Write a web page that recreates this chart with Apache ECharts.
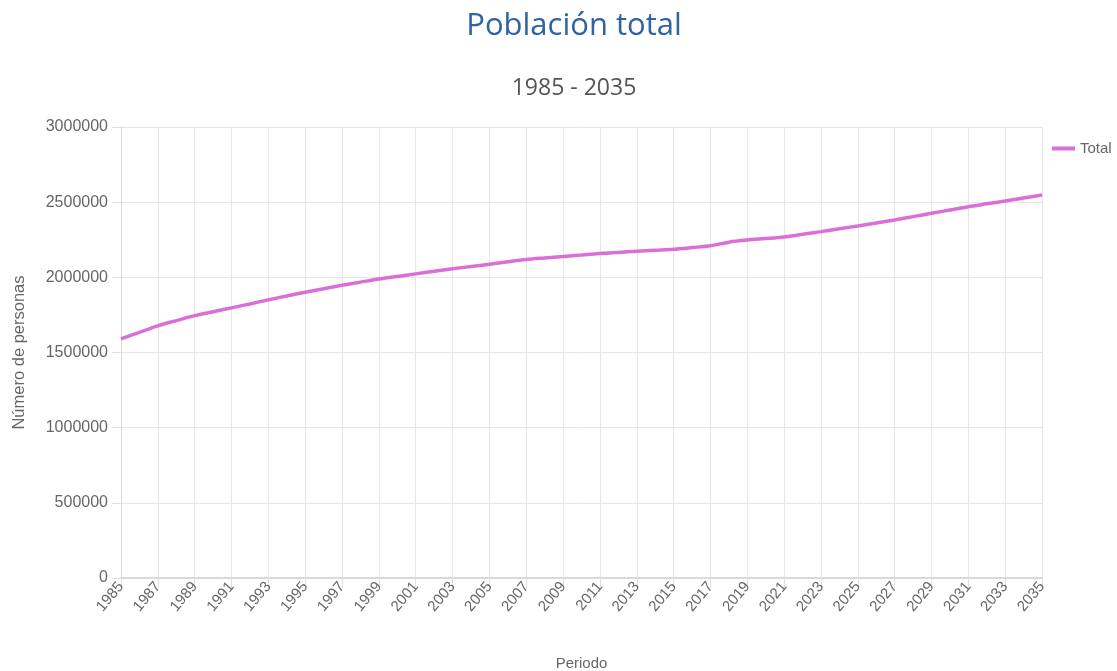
<!DOCTYPE html>
<html>
<head>
<meta charset="utf-8">
<script src="https://cdn.jsdelivr.net/npm/echarts@6/dist/echarts.min.js"></script>
<style>html,body{margin:0;padding:0;background:#fff}#c{width:1117px;height:671px}</style>
</head>
<body>
<div id="c"></div>
<script>
const categories = ['1985','1986','1987','1988','1989','1990','1991','1992','1993','1994','1995','1996','1997','1998','1999','2000','2001','2002','2003','2004','2005','2006','2007','2008','2009','2010','2011','2012','2013','2014','2015','2016','2017','2018','2019','2020','2021','2022','2023','2024','2025','2026','2027','2028','2029','2030','2031','2032','2033','2034','2035'];
const totalValues = [1590000,1634000,1677000,1712000,1745000,1771000,1797000,1823000,1850000,1876000,1901000,1924000,1947000,1968000,1989000,2006000,2023000,2040000,2057000,2072000,2087000,2103000,2119000,2129000,2138000,2148000,2158000,2166000,2173000,2180000,2187000,2198000,2210000,2234000,2248000,2258000,2269000,2286000,2304000,2323000,2342000,2362000,2382000,2404000,2426000,2448000,2470000,2489000,2508000,2528000,2548000];
const seriesName = 'Total';
const titleText = 'Población total';
const subtitleText = '1985 - 2035';

const chart = echarts.init(document.getElementById('c'), null, {renderer: 'canvas'});
chart.setOption({
  animation: false,
  title: [
    {text: titleText, left: 569, textAlign: 'center', top: 6, textStyle: {fontFamily: 'Open Sans', fontSize: 31, fontWeight: 'normal', color: '#2f63a3'}},
    {text: subtitleText, left: 569, textAlign: 'center', top: 72, textStyle: {fontFamily: 'Open Sans', fontSize: 23, fontWeight: 'normal', color: '#555'}}
  ],
  legend: {
    left: 1052, top: 141, padding: 0, icon: 'rect', itemWidth: 23, itemHeight: 4, itemGap: 5,
    textStyle: {fontFamily: 'Liberation Sans', fontSize: 15, color: '#666', padding: [0,0,0,0]},
    data: [seriesName]
  },
  grid: {left: 121, right: 75, top: 127, bottom: 93, containLabel: false, outerBoundsMode: 'none'},
  xAxis: {
    type: 'category', data: categories, boundaryGap: false,
    name: 'Periodo', nameLocation: 'middle', nameGap: 78,
    nameTextStyle: {fontFamily: 'Liberation Sans', fontSize: 15, color: '#666'},
    axisLine: {show: true, lineStyle: {color: '#d9d9d9', width: 2}},
    axisTick: {show: true, interval: 1, length: 10, lineStyle: {color: '#e0e0e0'}},
    axisLabel: {interval: 1, rotate: 50, margin: 6, fontFamily: 'Liberation Sans', fontSize: 15, color: '#666'},
    splitLine: {show: true, interval: 1, lineStyle: {color: '#e6e6e6'}}
  },
  yAxis: {
    type: 'value', min: 0, max: 3000000, interval: 500000,
    name: 'Número de personas', nameLocation: 'middle', nameGap: 93,
    nameTextStyle: {fontFamily: 'Liberation Sans', fontSize: 16.5, color: '#666'},
    axisLine: {show: true, lineStyle: {color: '#d9d9d9', width: 1}},
    axisTick: {show: true, length: 9, lineStyle: {color: '#e0e0e0'}},
    axisLabel: {margin: 13, fontFamily: 'Liberation Sans', fontSize: 16, color: '#666', formatter: v => String(v)},
    splitLine: {show: true, lineStyle: {color: '#e6e6e6'}}
  },
  series: [{
    name: seriesName, type: 'line', data: totalValues, smooth: 0.3,
    showSymbol: false, symbol: 'none',
    lineStyle: {color: '#da6fd8', width: 3.5},
    itemStyle: {color: '#da6fd8'}
  }]
});
</script>
</body>
</html>
